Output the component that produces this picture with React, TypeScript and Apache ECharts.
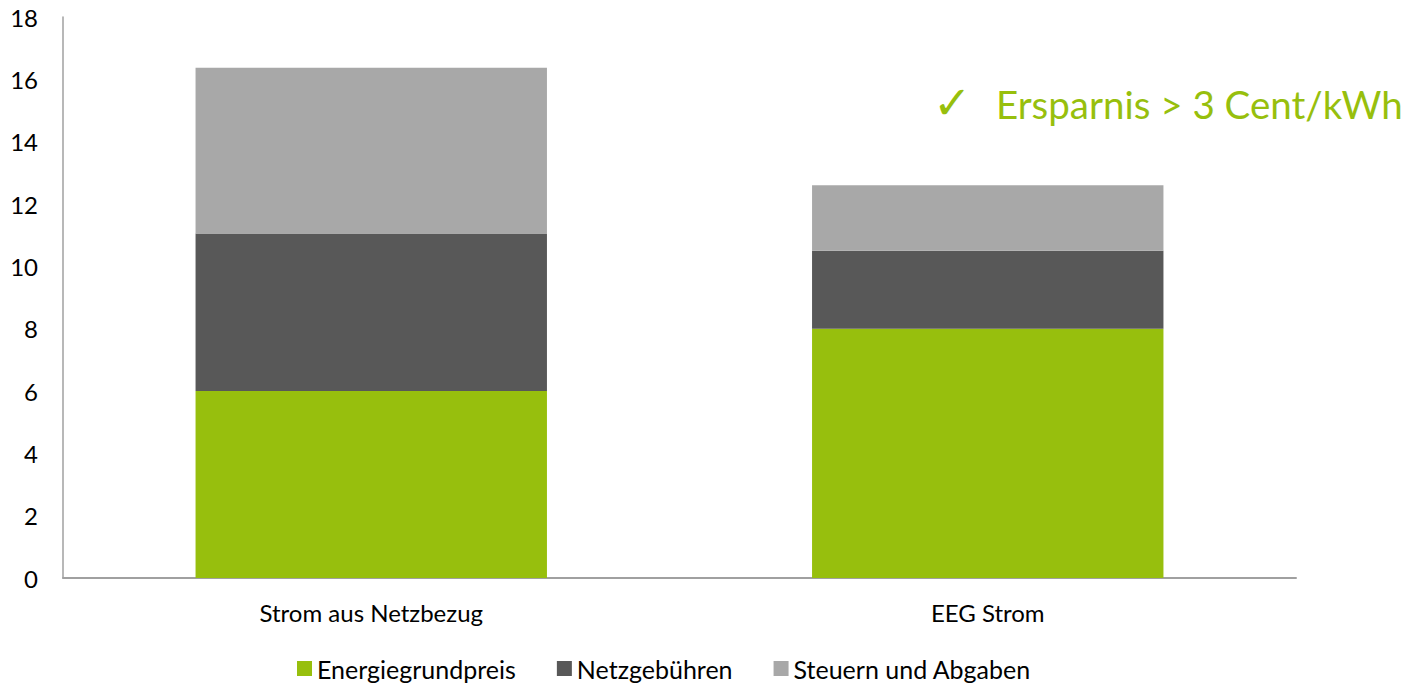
import React, { useEffect, useRef } from "react";
import * as echarts from "echarts";

const categories = ["Strom aus Netzbezug", "EEG Strom"];
const energiegrundpreis = [6.0, 8.0];
const netzgebuehren = [5.05, 2.5];
const steuernUndAbgaben = [5.32, 2.1];
const yTicks = { min: 0, max: 18, interval: 2 };
const annotation = "Ersparnis > 3 Cent/kWh";

const GREEN = "#97BF0D";
const DARK = "#585858";
const LIGHT = "#A8A8A8";
const FONT = "Lato, 'Open Sans', sans-serif";

export default function App() {
  const ref = useRef<HTMLDivElement>(null);
  useEffect(() => {
    if (!ref.current) return;
    const chart = echarts.init(ref.current, undefined, { renderer: "svg" });
    const mk = (name: string, data: number[], color: string) => ({
      name,
      type: "bar",
      stack: "total",
      data,
      barWidth: "57%",
      itemStyle: { color },
      emphasis: { disabled: true },
    });
    chart.setOption({
      animation: false,
      textStyle: { fontFamily: FONT },
      grid: { left: 63, right: 110, top: 17, bottom: 105, containLabel: false },
      legend: {
        left: 292,
        top: 651,
        icon: "rect",
        itemWidth: 15,
        itemHeight: 15,
        itemGap: 41,
        textStyle: { fontSize: 25, color: "#000", fontFamily: FONT },
        selectedMode: false,
        data: ["Energiegrundpreis", "Netzgebühren", "Steuern und Abgaben"],
      },
      xAxis: {
        type: "category",
        data: categories,
        axisLine: { lineStyle: { color: "#A0A0A0", width: 2 } },
        axisTick: { show: false },
        axisLabel: { color: "#000", fontSize: 24, margin: 22, fontFamily: FONT },
      },
      yAxis: {
        type: "value",
        min: yTicks.min,
        max: yTicks.max,
        interval: yTicks.interval,
        splitLine: { show: false },
        axisLine: { show: true, lineStyle: { color: "#A0A0A0", width: 1.5 } },
        axisTick: { show: false },
        axisLabel: { color: "#000", fontSize: 24, margin: 25, fontFamily: FONT },
      },
      graphic: [
        {
          type: "text",
          left: 933,
          top: 80,
          style: { text: "✓", fontSize: 46, fill: GREEN, fontFamily: "DejaVu Sans" },
        },
        {
          type: "text",
          left: 996,
          top: 84,
          style: { text: annotation, fontSize: 38.5, fill: GREEN, fontFamily: FONT },
        },
      ],
      series: [
        mk("Energiegrundpreis", energiegrundpreis, GREEN),
        mk("Netzgebühren", netzgebuehren, DARK),
        mk("Steuern und Abgaben", steuernUndAbgaben, LIGHT),
      ],
    });
    return () => chart.dispose();
  }, []);
  return (
    <div
      ref={ref}
      style={{ position: "absolute", left: 0, top: 0, width: 1406, height: 683 }}
    />
  );
}
